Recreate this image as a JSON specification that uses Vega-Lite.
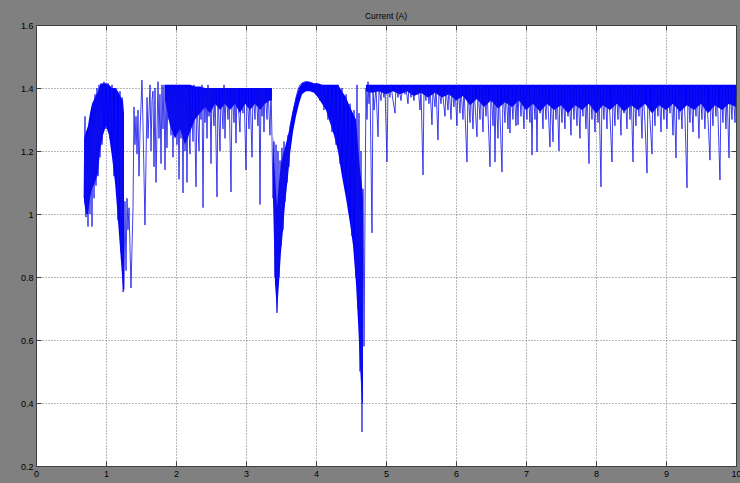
{
"$schema":"https://vega.github.io/schema/vega-lite/v6.json",
"width":700,"height":441,
"autosize":{"type":"none"},
"padding":{"left":36,"top":25,"right":4,"bottom":17},
"background":"#808080",
"title":{"text":"Current (A)","fontSize":8.5,"fontWeight":"normal","font":"Liberation Sans","color":"#000000","offset":-8,"baseline":"bottom"},
"datasets":{
"band":[
{"seg":"A","t":0.686,"lo":1.04,"hi":1.24},{"seg":"A","t":0.714,"lo":1.00,"hi":1.26},{"seg":"A","t":0.743,"lo":1.00,"hi":1.28},{"seg":"A","t":0.771,"lo":1.05,"hi":1.32},{"seg":"A","t":0.800,"lo":1.08,"hi":1.35},{"seg":"A","t":0.843,"lo":1.10,"hi":1.37},{"seg":"A","t":0.886,"lo":1.13,"hi":1.39},{"seg":"A","t":0.914,"lo":1.20,"hi":1.41},{"seg":"A","t":0.957,"lo":1.25,"hi":1.415},{"seg":"A","t":1.000,"lo":1.28,"hi":1.415},{"seg":"A","t":1.043,"lo":1.25,"hi":1.41},{"seg":"A","t":1.086,"lo":1.18,"hi":1.40},{"seg":"A","t":1.129,"lo":1.10,"hi":1.40},{"seg":"A","t":1.171,"lo":0.98,"hi":1.39},{"seg":"A","t":1.214,"lo":0.85,"hi":1.37},{"seg":"A","t":1.243,"lo":0.76,"hi":1.36},{"seg":"A","t":1.257,"lo":0.76,"hi":1.32},
{"seg":"B","t":1.843,"lo":1.36,"hi":1.41},{"seg":"B","t":1.914,"lo":1.28,"hi":1.41},{"seg":"B","t":1.986,"lo":1.24,"hi":1.41},{"seg":"B","t":2.057,"lo":1.27,"hi":1.41},{"seg":"B","t":2.129,"lo":1.22,"hi":1.41},{"seg":"B","t":2.200,"lo":1.26,"hi":1.41},{"seg":"B","t":2.271,"lo":1.30,"hi":1.405},{"seg":"B","t":2.343,"lo":1.32,"hi":1.405},{"seg":"B","t":2.414,"lo":1.34,"hi":1.40},{"seg":"B","t":2.486,"lo":1.32,"hi":1.40},{"seg":"B","t":2.557,"lo":1.35,"hi":1.40},{"seg":"B","t":2.629,"lo":1.33,"hi":1.40},{"seg":"B","t":2.700,"lo":1.35,"hi":1.40},{"seg":"B","t":2.771,"lo":1.33,"hi":1.40},{"seg":"B","t":2.843,"lo":1.35,"hi":1.40},{"seg":"B","t":2.914,"lo":1.32,"hi":1.40},{"seg":"B","t":2.986,"lo":1.35,"hi":1.40},{"seg":"B","t":3.057,"lo":1.33,"hi":1.40},{"seg":"B","t":3.129,"lo":1.35,"hi":1.40},{"seg":"B","t":3.200,"lo":1.33,"hi":1.40},{"seg":"B","t":3.271,"lo":1.35,"hi":1.40},{"seg":"B","t":3.343,"lo":1.36,"hi":1.40},{"seg":"B","t":3.371,"lo":1.36,"hi":1.40},
{"seg":"C","t":3.386,"lo":1.05,"hi":1.25},{"seg":"C","t":3.414,"lo":0.78,"hi":1.12},{"seg":"C","t":3.443,"lo":0.69,"hi":1.02},{"seg":"C","t":3.471,"lo":0.78,"hi":1.10},{"seg":"C","t":3.500,"lo":0.88,"hi":1.16},{"seg":"C","t":3.529,"lo":0.95,"hi":1.19},{"seg":"C","t":3.557,"lo":1.03,"hi":1.21},{"seg":"C","t":3.600,"lo":1.12,"hi":1.25},{"seg":"C","t":3.629,"lo":1.19,"hi":1.28},{"seg":"C","t":3.671,"lo":1.26,"hi":1.33},{"seg":"C","t":3.714,"lo":1.31,"hi":1.37},{"seg":"C","t":3.757,"lo":1.35,"hi":1.40},{"seg":"C","t":3.800,"lo":1.38,"hi":1.415},{"seg":"C","t":3.857,"lo":1.39,"hi":1.42},{"seg":"C","t":3.914,"lo":1.39,"hi":1.42},{"seg":"C","t":3.971,"lo":1.385,"hi":1.415},{"seg":"C","t":4.029,"lo":1.37,"hi":1.415},{"seg":"C","t":4.086,"lo":1.35,"hi":1.41},{"seg":"C","t":4.143,"lo":1.33,"hi":1.41},{"seg":"C","t":4.200,"lo":1.29,"hi":1.41},{"seg":"C","t":4.257,"lo":1.25,"hi":1.41},{"seg":"C","t":4.314,"lo":1.20,"hi":1.41},{"seg":"C","t":4.371,"lo":1.12,"hi":1.39},{"seg":"C","t":4.429,"lo":1.05,"hi":1.37},{"seg":"C","t":4.486,"lo":0.97,"hi":1.34},{"seg":"C","t":4.529,"lo":0.90,"hi":1.32},{"seg":"C","t":4.571,"lo":0.78,"hi":1.30},{"seg":"C","t":4.600,"lo":0.66,"hi":1.22},{"seg":"C","t":4.629,"lo":0.52,"hi":1.14},{"seg":"C","t":4.657,"lo":0.40,"hi":1.09},{"seg":"C","t":4.671,"lo":0.40,"hi":1.05},
{"seg":"D","t":4.714,"lo":1.39,"hi":1.41},{"seg":"D","t":4.8,"lo":1.385,"hi":1.41},{"seg":"D","t":4.9,"lo":1.39,"hi":1.41},{"seg":"D","t":5.0,"lo":1.38,"hi":1.41},{"seg":"D","t":5.1,"lo":1.39,"hi":1.41},{"seg":"D","t":5.2,"lo":1.38,"hi":1.41},{"seg":"D","t":5.3,"lo":1.39,"hi":1.41},{"seg":"D","t":5.4,"lo":1.375,"hi":1.41},{"seg":"D","t":5.5,"lo":1.385,"hi":1.41},{"seg":"D","t":5.6,"lo":1.37,"hi":1.41},{"seg":"D","t":5.7,"lo":1.385,"hi":1.41},{"seg":"D","t":5.8,"lo":1.37,"hi":1.41},{"seg":"D","t":5.9,"lo":1.38,"hi":1.41},{"seg":"D","t":6.0,"lo":1.36,"hi":1.41},{"seg":"D","t":6.1,"lo":1.375,"hi":1.41},{"seg":"D","t":6.2,"lo":1.345,"hi":1.41},{"seg":"D","t":6.3,"lo":1.365,"hi":1.41},{"seg":"D","t":6.4,"lo":1.34,"hi":1.41},{"seg":"D","t":6.5,"lo":1.36,"hi":1.41},{"seg":"D","t":6.6,"lo":1.335,"hi":1.41},{"seg":"D","t":6.7,"lo":1.355,"hi":1.41},{"seg":"D","t":6.8,"lo":1.34,"hi":1.41},{"seg":"D","t":6.9,"lo":1.36,"hi":1.41},{"seg":"D","t":7.0,"lo":1.33,"hi":1.41},{"seg":"D","t":7.1,"lo":1.35,"hi":1.41},{"seg":"D","t":7.2,"lo":1.325,"hi":1.41},{"seg":"D","t":7.3,"lo":1.35,"hi":1.41},{"seg":"D","t":7.4,"lo":1.33,"hi":1.41},{"seg":"D","t":7.5,"lo":1.345,"hi":1.41},{"seg":"D","t":7.6,"lo":1.32,"hi":1.41},{"seg":"D","t":7.7,"lo":1.345,"hi":1.41},{"seg":"D","t":7.8,"lo":1.33,"hi":1.41},{"seg":"D","t":7.9,"lo":1.35,"hi":1.41},{"seg":"D","t":8.0,"lo":1.32,"hi":1.41},{"seg":"D","t":8.1,"lo":1.345,"hi":1.41},{"seg":"D","t":8.2,"lo":1.33,"hi":1.41},{"seg":"D","t":8.3,"lo":1.35,"hi":1.41},{"seg":"D","t":8.4,"lo":1.325,"hi":1.41},{"seg":"D","t":8.5,"lo":1.345,"hi":1.41},{"seg":"D","t":8.6,"lo":1.33,"hi":1.41},{"seg":"D","t":8.7,"lo":1.35,"hi":1.41},{"seg":"D","t":8.8,"lo":1.32,"hi":1.41},{"seg":"D","t":8.9,"lo":1.345,"hi":1.41},{"seg":"D","t":9.0,"lo":1.33,"hi":1.41},{"seg":"D","t":9.1,"lo":1.35,"hi":1.41},{"seg":"D","t":9.2,"lo":1.325,"hi":1.41},{"seg":"D","t":9.3,"lo":1.345,"hi":1.41},{"seg":"D","t":9.4,"lo":1.33,"hi":1.41},{"seg":"D","t":9.5,"lo":1.35,"hi":1.41},{"seg":"D","t":9.6,"lo":1.32,"hi":1.41},{"seg":"D","t":9.7,"lo":1.345,"hi":1.41},{"seg":"D","t":9.8,"lo":1.33,"hi":1.41},{"seg":"D","t":9.9,"lo":1.35,"hi":1.41},{"seg":"D","t":10.0,"lo":1.34,"hi":1.41}
],
"sig":[
{"t":0.686,"v":1.05},{"t":0.700,"v":1.31},{"t":0.714,"v":0.99},{"t":0.729,"v":1.25},{"t":0.743,"v":0.96},{"t":0.757,"v":1.28},{"t":0.771,"v":1.00},{"t":0.786,"v":1.30},{"t":0.800,"v":0.96},{"t":0.814,"v":1.35},{"t":0.829,"v":1.05},{"t":0.843,"v":1.38},{"t":0.857,"v":1.09},{"t":0.871,"v":1.40},{"t":0.886,"v":1.12},{"t":0.900,"v":1.41},{"t":0.914,"v":1.18},{"t":0.929,"v":1.415},{"t":0.943,"v":1.22},{"t":0.971,"v":1.42},{"t":1.000,"v":1.27},{"t":1.029,"v":1.415},{"t":1.057,"v":1.24},{"t":1.086,"v":1.41},{"t":1.114,"v":1.12},{"t":1.143,"v":1.40},{"t":1.171,"v":0.98},{"t":1.200,"v":1.39},{"t":1.214,"v":0.88},{"t":1.229,"v":1.37},{"t":1.243,"v":0.752},{"t":1.257,"v":0.76},{"t":1.271,"v":1.04},{"t":1.286,"v":0.82},{"t":1.300,"v":1.05},{"t":1.314,"v":0.95},{"t":1.329,"v":1.02},{"t":1.357,"v":0.765},{"t":1.386,"v":1.02},{"t":1.400,"v":1.34},{"t":1.414,"v":1.22},{"t":1.429,"v":1.31},{"t":1.443,"v":1.19},{"t":1.457,"v":1.33},{"t":1.471,"v":1.12},{"t":1.486,"v":1.26},{"t":1.514,"v":1.425},{"t":1.529,"v":1.28},{"t":1.557,"v":0.965},{"t":1.586,"v":1.37},{"t":1.600,"v":1.24},{"t":1.629,"v":1.41},{"t":1.643,"v":1.20},{"t":1.657,"v":1.36},{"t":1.671,"v":1.39},{"t":1.686,"v":1.15},{"t":1.700,"v":1.40},{"t":1.714,"v":1.10},{"t":1.743,"v":1.42},{"t":1.757,"v":1.24},{"t":1.771,"v":1.38},{"t":1.786,"v":1.16},{"t":1.800,"v":1.41},{"t":1.814,"v":1.27},{"t":1.829,"v":1.41},{"t":1.843,"v":1.14},{"t":1.857,"v":1.40},{"t":1.871,"v":1.21},{"t":1.886,"v":1.41},{"t":1.900,"v":1.30},{"t":1.914,"v":1.40},{"t":1.929,"v":1.25},{"t":1.943,"v":1.41},{"t":1.957,"v":1.18},{"t":1.971,"v":1.40},{"t":1.986,"v":1.27},{"t":2.000,"v":1.41},{"t":2.014,"v":1.22},{"t":2.029,"v":1.40},{"t":2.043,"v":1.11},{"t":2.057,"v":1.41},{"t":2.071,"v":1.24},{"t":2.086,"v":1.40},{"t":2.100,"v":1.067},{"t":2.114,"v":1.41},{"t":2.129,"v":1.20},{"t":2.143,"v":1.40},{"t":2.157,"v":1.10},{"t":2.171,"v":1.41},{"t":2.186,"v":1.26},{"t":2.200,"v":1.19},{"t":2.214,"v":1.40},{"t":2.243,"v":1.23},{"t":2.257,"v":1.41},{"t":2.286,"v":1.086},{"t":2.300,"v":1.40},{"t":2.314,"v":1.28},{"t":2.329,"v":1.20},{"t":2.343,"v":1.40},{"t":2.357,"v":1.30},{"t":2.371,"v":1.41},{"t":2.386,"v":1.02},{"t":2.400,"v":1.40},{"t":2.414,"v":1.29},{"t":2.429,"v":1.40},{"t":2.443,"v":1.24},{"t":2.457,"v":1.41},{"t":2.471,"v":1.31},{"t":2.486,"v":1.40},{"t":2.500,"v":1.16},{"t":2.514,"v":1.40},{"t":2.543,"v":1.28},{"t":2.557,"v":1.40},{"t":2.586,"v":1.054},{"t":2.600,"v":1.40},{"t":2.614,"v":1.30},{"t":2.629,"v":1.20},{"t":2.643,"v":1.40},{"t":2.671,"v":1.27},{"t":2.686,"v":1.41},{"t":2.700,"v":1.24},{"t":2.714,"v":1.40},{"t":2.743,"v":1.30},{"t":2.757,"v":1.40},{"t":2.786,"v":1.07},{"t":2.800,"v":1.40},{"t":2.829,"v":1.29},{"t":2.843,"v":1.40},{"t":2.857,"v":1.225},{"t":2.871,"v":1.40},{"t":2.900,"v":1.31},{"t":2.914,"v":1.26},{"t":2.929,"v":1.40},{"t":2.957,"v":1.32},{"t":2.971,"v":1.40},{"t":3.000,"v":1.14},{"t":3.014,"v":1.40},{"t":3.043,"v":1.27},{"t":3.057,"v":1.40},{"t":3.086,"v":1.18},{"t":3.100,"v":1.40},{"t":3.129,"v":1.30},{"t":3.143,"v":1.40},{"t":3.171,"v":1.28},{"t":3.186,"v":1.40},{"t":3.200,"v":1.03},{"t":3.214,"v":1.40},{"t":3.229,"v":1.31},{"t":3.243,"v":1.40},{"t":3.257,"v":1.26},{"t":3.271,"v":1.40},{"t":3.300,"v":1.30},{"t":3.314,"v":1.40},{"t":3.343,"v":1.25},{"t":3.357,"v":1.40},{"t":3.371,"v":1.245},{"t":3.386,"v":1.05},{"t":3.400,"v":1.23},{"t":3.414,"v":0.80},{"t":3.429,"v":1.22},{"t":3.443,"v":0.686},{"t":3.457,"v":1.20},{"t":3.471,"v":0.80},{"t":3.486,"v":1.17},{"t":3.500,"v":0.90},{"t":3.514,"v":1.21},{"t":3.529,"v":0.95},{"t":3.543,"v":1.23},{"t":3.557,"v":1.04},{"t":3.571,"v":1.21},{"t":3.586,"v":1.10},{"t":3.600,"v":1.25},{"t":3.614,"v":1.15},{"t":3.629,"v":1.28},{"t":3.657,"v":1.31},{"t":3.686,"v":1.34},{"t":3.714,"v":1.37},{"t":3.743,"v":1.395},{"t":3.771,"v":1.41},{"t":3.800,"v":1.416},{"t":3.843,"v":1.42},{"t":3.886,"v":1.42},{"t":3.929,"v":1.415},{"t":3.971,"v":1.41},{"t":4.000,"v":1.38},{"t":4.029,"v":1.41},{"t":4.057,"v":1.36},{"t":4.086,"v":1.41},{"t":4.114,"v":1.33},{"t":4.143,"v":1.41},{"t":4.171,"v":1.30},{"t":4.200,"v":1.41},{"t":4.229,"v":1.26},{"t":4.257,"v":1.40},{"t":4.286,"v":1.22},{"t":4.314,"v":1.41},{"t":4.343,"v":1.16},{"t":4.371,"v":1.40},{"t":4.400,"v":1.10},{"t":4.429,"v":1.38},{"t":4.457,"v":1.03},{"t":4.486,"v":1.35},{"t":4.514,"v":0.93},{"t":4.543,"v":1.33},{"t":4.571,"v":0.80},{"t":4.586,"v":1.41},{"t":4.600,"v":0.70},{"t":4.614,"v":1.32},{"t":4.629,"v":0.50},{"t":4.643,"v":1.20},{"t":4.657,"v":0.308},{"t":4.671,"v":1.08},{"t":4.686,"v":0.58},{"t":4.714,"v":1.40},{"t":4.729,"v":1.30},{"t":4.743,"v":1.42},{"t":4.757,"v":1.35},{"t":4.771,"v":1.41},{"t":4.800,"v":0.94},{"t":4.814,"v":1.40},{"t":4.829,"v":1.33},{"t":4.857,"v":1.40},{"t":4.886,"v":1.245},{"t":4.900,"v":1.40},{"t":4.929,"v":1.36},{"t":4.943,"v":1.41},{"t":4.971,"v":1.37},{"t":4.986,"v":1.40},{"t":5.014,"v":1.165},{"t":5.029,"v":1.40},{"t":5.057,"v":1.37},{"t":5.071,"v":1.41},{"t":5.100,"v":1.36},{"t":5.129,"v":1.32},{"t":5.143,"v":1.41},{"t":5.171,"v":1.37},{"t":5.186,"v":1.40},{"t":5.214,"v":1.36},{"t":5.243,"v":1.41},{"t":5.271,"v":1.38},{"t":5.286,"v":1.40},{"t":5.314,"v":1.35},{"t":5.329,"v":1.41},{"t":5.357,"v":1.37},{"t":5.371,"v":1.40},{"t":5.400,"v":1.36},{"t":5.414,"v":1.40},{"t":5.443,"v":1.38},{"t":5.457,"v":1.41},{"t":5.486,"v":1.33},{"t":5.500,"v":1.40},{"t":5.529,"v":1.124},{"t":5.543,"v":1.40},{"t":5.571,"v":1.36},{"t":5.586,"v":1.41},{"t":5.614,"v":1.35},{"t":5.629,"v":1.40},{"t":5.657,"v":1.283},{"t":5.671,"v":1.40},{"t":5.700,"v":1.34},{"t":5.714,"v":1.41},{"t":5.743,"v":1.235},{"t":5.757,"v":1.40},{"t":5.786,"v":1.35},{"t":5.800,"v":1.40},{"t":5.843,"v":1.31},{"t":5.857,"v":1.40},{"t":5.886,"v":1.33},{"t":5.900,"v":1.41},{"t":5.929,"v":1.30},{"t":5.943,"v":1.40},{"t":5.971,"v":1.34},{"t":5.986,"v":1.40},{"t":6.014,"v":1.28},{"t":6.029,"v":1.41},{"t":6.057,"v":1.32},{"t":6.071,"v":1.40},{"t":6.100,"v":1.30},{"t":6.114,"v":1.40},{"t":6.157,"v":1.165},{"t":6.171,"v":1.40},{"t":6.200,"v":1.29},{"t":6.214,"v":1.41},{"t":6.243,"v":1.27},{"t":6.257,"v":1.40},{"t":6.300,"v":1.245},{"t":6.314,"v":1.40},{"t":6.343,"v":1.30},{"t":6.357,"v":1.41},{"t":6.386,"v":1.26},{"t":6.400,"v":1.40},{"t":6.429,"v":1.31},{"t":6.443,"v":1.40},{"t":6.486,"v":1.15},{"t":6.500,"v":1.40},{"t":6.529,"v":1.28},{"t":6.543,"v":1.41},{"t":6.557,"v":1.165},{"t":6.571,"v":1.40},{"t":6.600,"v":1.24},{"t":6.614,"v":1.41},{"t":6.657,"v":1.133},{"t":6.671,"v":1.40},{"t":6.700,"v":1.29},{"t":6.714,"v":1.41},{"t":6.743,"v":1.27},{"t":6.757,"v":1.40},{"t":6.771,"v":1.257},{"t":6.786,"v":1.40},{"t":6.814,"v":1.30},{"t":6.829,"v":1.41},{"t":6.857,"v":1.28},{"t":6.871,"v":1.40},{"t":6.886,"v":1.283},{"t":6.900,"v":1.41},{"t":6.929,"v":1.31},{"t":6.943,"v":1.40},{"t":6.971,"v":1.27},{"t":6.986,"v":1.41},{"t":7.014,"v":1.30},{"t":7.029,"v":1.40},{"t":7.057,"v":1.29},{"t":7.071,"v":1.40},{"t":7.086,"v":1.187},{"t":7.100,"v":1.41},{"t":7.129,"v":1.30},{"t":7.143,"v":1.40},{"t":7.157,"v":1.197},{"t":7.171,"v":1.40},{"t":7.200,"v":1.32},{"t":7.214,"v":1.41},{"t":7.243,"v":1.27},{"t":7.257,"v":1.40},{"t":7.286,"v":1.30},{"t":7.300,"v":1.41},{"t":7.343,"v":1.213},{"t":7.357,"v":1.40},{"t":7.386,"v":1.229},{"t":7.400,"v":1.41},{"t":7.429,"v":1.30},{"t":7.443,"v":1.40},{"t":7.471,"v":1.20},{"t":7.486,"v":1.41},{"t":7.514,"v":1.29},{"t":7.529,"v":1.40},{"t":7.557,"v":1.27},{"t":7.571,"v":1.41},{"t":7.600,"v":1.31},{"t":7.614,"v":1.40},{"t":7.643,"v":1.25},{"t":7.657,"v":1.41},{"t":7.686,"v":1.30},{"t":7.700,"v":1.40},{"t":7.729,"v":1.28},{"t":7.743,"v":1.41},{"t":7.771,"v":1.24},{"t":7.786,"v":1.40},{"t":7.814,"v":1.31},{"t":7.829,"v":1.41},{"t":7.857,"v":1.27},{"t":7.871,"v":1.40},{"t":7.900,"v":1.16},{"t":7.914,"v":1.41},{"t":7.943,"v":1.30},{"t":7.957,"v":1.40},{"t":7.986,"v":1.26},{"t":8.000,"v":1.41},{"t":8.029,"v":1.29},{"t":8.043,"v":1.40},{"t":8.071,"v":1.086},{"t":8.086,"v":1.40},{"t":8.114,"v":1.30},{"t":8.129,"v":1.41},{"t":8.157,"v":1.27},{"t":8.171,"v":1.40},{"t":8.200,"v":1.31},{"t":8.229,"v":1.165},{"t":8.243,"v":1.40},{"t":8.271,"v":1.28},{"t":8.286,"v":1.41},{"t":8.314,"v":1.30},{"t":8.329,"v":1.40},{"t":8.357,"v":1.25},{"t":8.371,"v":1.41},{"t":8.400,"v":1.32},{"t":8.414,"v":1.40},{"t":8.443,"v":1.27},{"t":8.457,"v":1.41},{"t":8.486,"v":1.30},{"t":8.500,"v":1.40},{"t":8.529,"v":1.165},{"t":8.543,"v":1.41},{"t":8.571,"v":1.28},{"t":8.586,"v":1.40},{"t":8.614,"v":1.31},{"t":8.629,"v":1.41},{"t":8.657,"v":1.24},{"t":8.671,"v":1.40},{"t":8.700,"v":1.29},{"t":8.729,"v":1.13},{"t":8.743,"v":1.40},{"t":8.771,"v":1.30},{"t":8.800,"v":1.19},{"t":8.814,"v":1.41},{"t":8.843,"v":1.28},{"t":8.857,"v":1.40},{"t":8.886,"v":1.31},{"t":8.900,"v":1.41},{"t":8.929,"v":1.26},{"t":8.943,"v":1.40},{"t":8.971,"v":1.30},{"t":8.986,"v":1.41},{"t":9.014,"v":1.27},{"t":9.029,"v":1.40},{"t":9.057,"v":1.32},{"t":9.071,"v":1.41},{"t":9.100,"v":1.25},{"t":9.114,"v":1.40},{"t":9.143,"v":1.178},{"t":9.157,"v":1.41},{"t":9.186,"v":1.30},{"t":9.200,"v":1.40},{"t":9.229,"v":1.27},{"t":9.243,"v":1.41},{"t":9.271,"v":1.31},{"t":9.300,"v":1.083},{"t":9.314,"v":1.40},{"t":9.343,"v":1.29},{"t":9.357,"v":1.41},{"t":9.386,"v":1.26},{"t":9.400,"v":1.40},{"t":9.429,"v":1.31},{"t":9.443,"v":1.41},{"t":9.471,"v":1.24},{"t":9.486,"v":1.40},{"t":9.514,"v":1.30},{"t":9.529,"v":1.41},{"t":9.557,"v":1.27},{"t":9.571,"v":1.40},{"t":9.600,"v":1.30},{"t":9.629,"v":1.171},{"t":9.643,"v":1.41},{"t":9.671,"v":1.28},{"t":9.686,"v":1.40},{"t":9.714,"v":1.31},{"t":9.729,"v":1.41},{"t":9.771,"v":1.108},{"t":9.786,"v":1.40},{"t":9.814,"v":1.29},{"t":9.829,"v":1.41},{"t":9.857,"v":1.27},{"t":9.871,"v":1.40},{"t":9.900,"v":1.178},{"t":9.914,"v":1.41},{"t":9.943,"v":1.30},{"t":9.957,"v":1.40},{"t":9.986,"v":1.29},{"t":10.0,"v":1.40}
]
},
"layer":[
{"data":{"name":"band"},
 "mark":{"type":"area","color":"#0000ff","opacity":1},
 "encoding":{
  "x":{"field":"t","type":"quantitative","scale":{"domain":[0,10],"nice":false,"zero":false},
       "axis":{"orient":"bottom","values":[0,1,2,3,4,5,6,7,8,9,10],"format":"d","title":null,"grid":true,"tickSize":-5,"labelPadding":8}},
  "y":{"field":"lo","type":"quantitative","scale":{"domain":[0.2,1.6],"nice":false,"zero":false},
       "axis":{"orient":"left","values":[0.2,0.4,0.6,0.8,1,1.2,1.4,1.6],"format":"~g","title":null,"grid":true,"tickSize":-5,"labelPadding":8}},
  "y2":{"field":"hi"},
  "detail":{"field":"seg","type":"nominal"}
 }},
{"data":{"name":"sig"},
 "mark":{"type":"line","color":"#1010e8","strokeWidth":0.8},
 "encoding":{
  "x":{"field":"t","type":"quantitative","scale":{"domain":[0,10],"nice":false,"zero":false},
       "axis":{"orient":"top","values":[0,1,2,3,4,5,6,7,8,9,10],"labels":false,"title":null,"grid":false,"tickSize":-5,"domain":true}},
  "y":{"field":"v","type":"quantitative","scale":{"domain":[0.2,1.6],"nice":false,"zero":false},
       "axis":{"orient":"right","values":[0.2,0.4,0.6,0.8,1,1.2,1.4,1.6],"labels":false,"title":null,"grid":false,"tickSize":-5,"domain":true}}
 }}
],
"resolve":{"axis":{"x":"independent","y":"independent"}},
"config":{
 "view":{"fill":"#ffffff","stroke":null},
 "axis":{"labelFont":"Liberation Sans","labelFontSize":9,"labelColor":"#000000","domainColor":"#404040","tickColor":"#404040","tickWidth":1,"gridColor":"#707070","gridDash":[1,2],"gridOpacity":1,"gridWidth":1,"labelFlush":false,"labelOverlap":false,"labelBound":false}
}
}
